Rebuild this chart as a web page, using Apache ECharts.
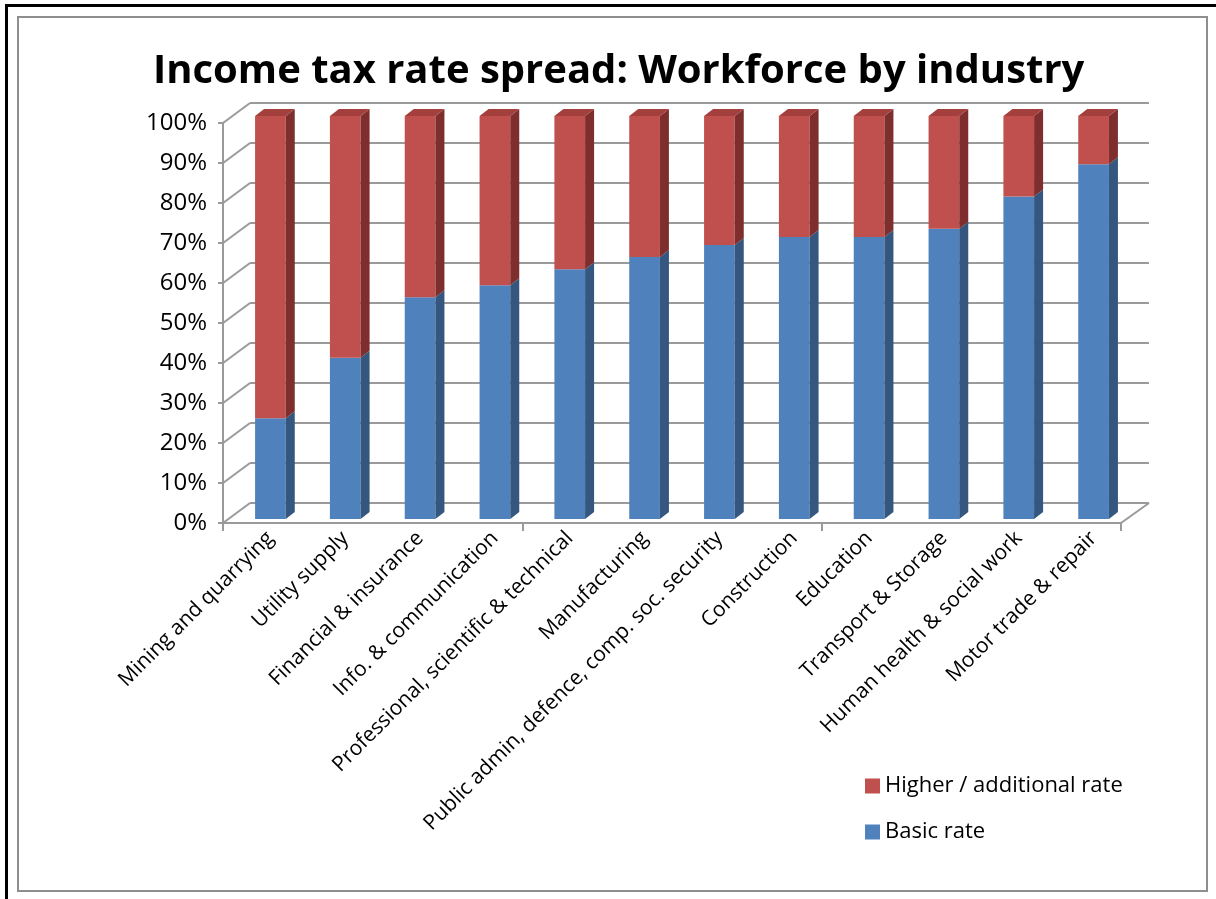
<!DOCTYPE html>
<html>
<head>
<meta charset="utf-8">
<script src="https://cdn.jsdelivr.net/npm/echarts@6/dist/echarts.min.js"></script>
<style>
  html, body { margin: 0; padding: 0; background: #ffffff; }
  #chart { width: 1216px; height: 899px; }
</style>
</head>
<body>
<div id="chart"></div>
<script>
const categories = [
  'Mining and quarrying',
  'Utility supply',
  'Financial & insurance',
  'Info. & communication',
  'Professional, scientific & technical',
  'Manufacturing',
  'Public admin, defence, comp. soc. security',
  'Construction',
  'Education',
  'Transport & Storage',
  'Human health & social work',
  'Motor trade & repair'
];
const basicRate  = [25, 40, 55, 58, 62, 65, 68, 70, 70, 72, 80, 88];
const higherRate = [75, 60, 45, 42, 38, 35, 32, 30, 30, 28, 20, 12];
const yTicks = [0, 10, 20, 30, 40, 50, 60, 70, 80, 90, 100];

const FONT = '"Open Sans", "Noto Sans", sans-serif';
const GRID_COLOR = '#9a9a9a';
const WALL_DX = 27, WALL_DY = 20;
const BAR_DX = 9, BAR_DY = 7;

const basicData = categories.map((c, i) => [i, 0, basicRate[i]]);
const higherData = categories.map((c, i) => [i, basicRate[i], basicRate[i] + higherRate[i]]);

function makeBarRenderer(front, side, top, drawTop) {
  return function (params, api) {
    const idx = api.value(0);
    const pLo = api.coord([idx, api.value(1)]);
    const pHi = api.coord([idx, api.value(2)]);
    const bw = api.size([1, 0])[0] * 0.41;
    const x0 = pLo[0] - bw / 2, x1 = pLo[0] + bw / 2;
    const yb = pLo[1], yt = pHi[1];
    const children = [
      { type: 'rect', shape: { x: x0, y: yt, width: bw, height: yb - yt }, style: { fill: front } },
      { type: 'polygon', shape: { points: [[x1, yt], [x1 + BAR_DX, yt - BAR_DY], [x1 + BAR_DX, yb - BAR_DY], [x1, yb]] }, style: { fill: side } }
    ];
    if (drawTop) {
      children.push({ type: 'polygon', shape: { points: [[x0, yt], [x0 + BAR_DX, yt - BAR_DY], [x1 + BAR_DX, yt - BAR_DY], [x1, yt]] }, style: { fill: top } });
    }
    return { type: 'group', children: children };
  };
}

function renderWall(params, api) {
  const v = api.value(0);
  const cs = params.coordSys;
  const y = api.coord([0, v])[1];
  const left = cs.x, right = cs.x + cs.width;
  const children = [
    { type: 'line', shape: { x1: left, y1: y, x2: left + WALL_DX, y2: y - WALL_DY }, style: { stroke: GRID_COLOR, lineWidth: 2 } }
  ];
  if (v === 0) {
    children.push({ type: 'line', shape: { x1: right, y1: y, x2: right + WALL_DX + 1, y2: y - WALL_DY }, style: { stroke: GRID_COLOR, lineWidth: 2 } });
  }
  return { type: 'group', children: children };
}

const chart = echarts.init(document.getElementById('chart'), null, { renderer: 'canvas' });
chart.setOption({
  animation: false,
  backgroundColor: '#ffffff',
  title: {
    text: 'Income tax rate spread: Workforce by industry',
    left: 148,
    top: 47,
    textStyle: { fontFamily: FONT, fontWeight: 'bold', fontSize: 40, color: '#000000' }
  },
  legend: {
    orient: 'vertical',
    left: 860,
    top: 770,
    itemWidth: 15,
    itemHeight: 15,
    itemGap: 24,
    icon: 'rect',
    data: ['Higher / additional rate', 'Basic rate'],
    textStyle: { fontFamily: FONT, fontSize: 22, color: '#000000' }
  },
  graphic: [
    { type: 'rect', shape: { x: 18, y: 17, width: 1189, height: 874 }, style: { fill: 'none', stroke: '#8e8e8e', lineWidth: 2 }, z: 0 },
    { type: 'rect', shape: { x: 5, y: 4, width: 3, height: 895 }, style: { fill: '#000000' } },
    { type: 'rect', shape: { x: 5, y: 4, width: 1211, height: 3 }, style: { fill: '#000000' } }
  ],
  grid: [
    { left: 223, right: 95, top: 123, bottom: 376 },   // front plane
    { left: 250, right: 67, top: 103, bottom: 396 },   // back wall
    { left: 233, right: 85, top: 116, bottom: 380 }    // bars
  ],
  xAxis: [
    { gridIndex: 0, type: 'category', data: categories, boundaryGap: true,
      axisLine: { show: true, lineStyle: { color: GRID_COLOR, width: 2 } },
      axisTick: { show: true, length: 8, inside: false, lineStyle: { color: GRID_COLOR, width: 2 } },
      axisLabel: { show: false }, splitLine: { show: false } },
    { gridIndex: 1, type: 'category', data: categories, show: false },
    { gridIndex: 2, type: 'category', data: categories,
      axisLine: { show: false }, axisTick: { show: false },
      axisLabel: { show: true, rotate: 45, interval: 0, margin: 16, fontFamily: FONT, fontSize: 21, color: '#000000' } }
  ],
  yAxis: [
    { gridIndex: 0, type: 'value', min: 0, max: 100, interval: 10,
      axisLine: { show: true, lineStyle: { color: GRID_COLOR, width: 2 } },
      axisTick: { show: true, length: 5, lineStyle: { color: GRID_COLOR, width: 2 } },
      axisLabel: { formatter: '{value}%', margin: 16, fontFamily: FONT, fontSize: 24, color: '#000000' },
      splitLine: { show: false } },
    { gridIndex: 1, type: 'value', min: 0, max: 100, interval: 10,
      axisLine: { show: false }, axisTick: { show: false }, axisLabel: { show: false },
      splitLine: { show: true, lineStyle: { color: GRID_COLOR, width: 2 } } },
    { gridIndex: 2, type: 'value', min: 0, max: 100, interval: 10, show: false, splitLine: { show: false } }
  ],
  series: [
    { type: 'custom', name: 'wall', xAxisIndex: 0, yAxisIndex: 0, silent: true,
      data: yTicks.map(v => [v]), encode: { y: 0 }, renderItem: renderWall, z: 1 },
    { type: 'custom', name: 'Basic rate', xAxisIndex: 2, yAxisIndex: 2,
      itemStyle: { color: '#4F81BD' },
      data: basicData, encode: { x: 0, y: [1, 2] },
      renderItem: makeBarRenderer('#4F81BD', '#34567F', '#3F6797', false), z: 3 },
    { type: 'custom', name: 'Higher / additional rate', xAxisIndex: 2, yAxisIndex: 2,
      itemStyle: { color: '#C0504D' },
      data: higherData, encode: { x: 0, y: [1, 2] },
      renderItem: makeBarRenderer('#C0504D', '#7E2F2D', '#A3403D', true), z: 3 }
  ]
});
</script>
</body>
</html>
